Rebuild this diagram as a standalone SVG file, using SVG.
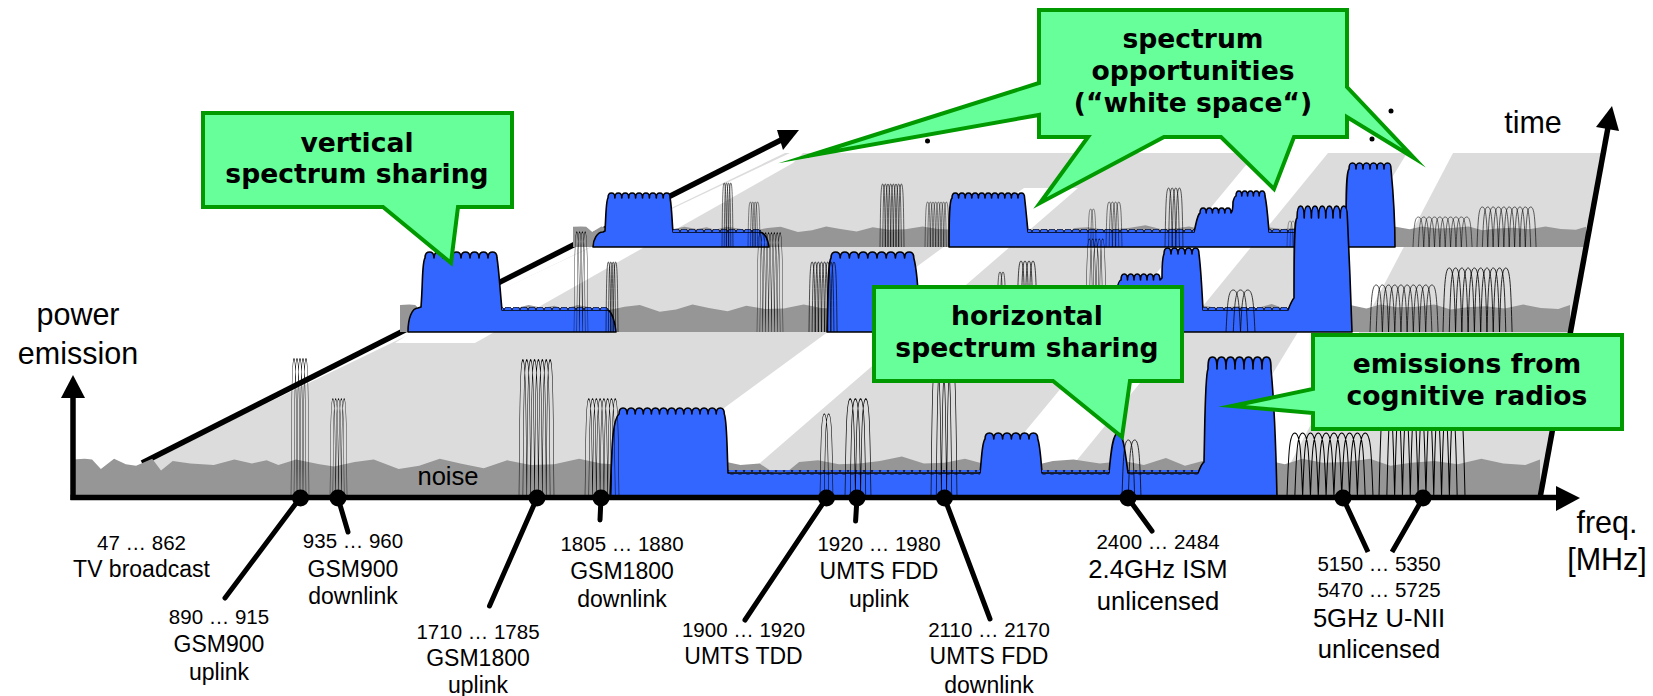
<svg xmlns="http://www.w3.org/2000/svg" width="1653" height="696" viewBox="0 0 1653 696">
<style>
.lab{font-family:"Liberation Sans",Arial,sans-serif;fill:#000;text-anchor:middle}
.n{font-size:20.5px}.m{font-size:23px}.l{font-size:25.6px}.x{font-size:30.5px}
.call{font-family:"DejaVu Sans",Verdana,sans-serif;font-weight:bold;font-size:26.6px;fill:#000;text-anchor:middle}
.box{fill:#66ff99;stroke:#009900;stroke-width:4;stroke-miterlimit:30;stroke-linejoin:miter}
.arch{fill:none;stroke:#000;stroke-width:1.3;vector-effect:non-scaling-stroke}
.blue{fill:#3366ff;stroke:#000;stroke-width:1.6;stroke-linejoin:round}
.noise{fill:#969696}
.ax{fill:none;stroke:#000;stroke-width:5.5}
.lead{fill:none;stroke:#000;stroke-width:5;stroke-linecap:round}
</style>
<defs>
<path id="c2" d="M0,0c2,-70 3,-100 10,-100c7,0 8,30 10,100m-10,0c2,-70 3,-100 10,-100c7,0 8,30 10,100"/>
<path id="c3" d="M0,0c2,-70 3,-100 10,-100c7,0 8,30 10,100m-10,0c2,-70 3,-100 10,-100c7,0 8,30 10,100m-10,0c2,-70 3,-100 10,-100c7,0 8,30 10,100"/>
<path id="c4" d="M0,0c2,-70 3,-100 10,-100c7,0 8,30 10,100m-10,0c2,-70 3,-100 10,-100c7,0 8,30 10,100m-10,0c2,-70 3,-100 10,-100c7,0 8,30 10,100m-10,0c2,-70 3,-100 10,-100c7,0 8,30 10,100"/>
<path id="c5" d="M0,0c2,-70 3,-100 10,-100c7,0 8,30 10,100m-10,0c2,-70 3,-100 10,-100c7,0 8,30 10,100m-10,0c2,-70 3,-100 10,-100c7,0 8,30 10,100m-10,0c2,-70 3,-100 10,-100c7,0 8,30 10,100m-10,0c2,-70 3,-100 10,-100c7,0 8,30 10,100"/>
<path id="c8" d="M0,0c2,-70 3,-100 10,-100c7,0 8,30 10,100m-10,0c2,-70 3,-100 10,-100c7,0 8,30 10,100m-10,0c2,-70 3,-100 10,-100c7,0 8,30 10,100m-10,0c2,-70 3,-100 10,-100c7,0 8,30 10,100m-10,0c2,-70 3,-100 10,-100c7,0 8,30 10,100m-10,0c2,-70 3,-100 10,-100c7,0 8,30 10,100m-10,0c2,-70 3,-100 10,-100c7,0 8,30 10,100m-10,0c2,-70 3,-100 10,-100c7,0 8,30 10,100"/>
<path id="c10" d="M0,0c2,-70 3,-100 10,-100c7,0 8,30 10,100m-10,0c2,-70 3,-100 10,-100c7,0 8,30 10,100m-10,0c2,-70 3,-100 10,-100c7,0 8,30 10,100m-10,0c2,-70 3,-100 10,-100c7,0 8,30 10,100m-10,0c2,-70 3,-100 10,-100c7,0 8,30 10,100m-10,0c2,-70 3,-100 10,-100c7,0 8,30 10,100m-10,0c2,-70 3,-100 10,-100c7,0 8,30 10,100m-10,0c2,-70 3,-100 10,-100c7,0 8,30 10,100m-10,0c2,-70 3,-100 10,-100c7,0 8,30 10,100m-10,0c2,-70 3,-100 10,-100c7,0 8,30 10,100"/>
<path id="nz" d="M0,0V-96L8,-98L13,-96L19,-72L28,-98L36,-84L43,-80L54,-98L60,-68L68,-92L80,-86L96,-82L110,-96L122,-86L132,-94L140,-82L152,-96L168,-84L178,-78L192,-90L205,-96L222,-72L236,-80L250,-98L264,-86L280,-74L296,-94L312,-82L328,-84L345,-98L360,-86L376,-82L392,-76L410,-92L425,-82L440,-94L455,-82L468,-86L480,-56L486,-62L495,-90L508,-94L522,-84L536,-86L550,-92L565,-104L580,-86L594,-88L608,-98L620,-86L628,-100L640,-88L654,-80L668,-92L682,-96L700,-86L716,-92L730,-82L745,-100L758,-80L770,-92L784,-94L798,-82L812,-96L826,-84L838,-98L852,-88L868,-90L884,-98L898,-80L912,-88L928,-92L944,-84L960,-98L975,-86L990,-82L1000,-96V0Z"/>
<pattern id="sc" width="8" height="6" patternUnits="userSpaceOnUse"><path d="M0,4c0,-2 2,-3 4,-3s4,1 4,3" fill="#3366ff" stroke="#000" stroke-width="1"/></pattern>
</defs>
<rect width="1653" height="696" fill="#fff"/>
<g id="floor">
<polygon points="73,497 1540,497 1604,153 785,153" fill="#dcdcdc"/>
<polygon points="395,343 475,343 793,163 803,153 790,153 412,332" fill="#fff"/>
<polygon points="660,455 1024,188 1078,188 752,470 660,470" fill="#fff"/>
<polygon points="1256,153 1328,153 1064,476 985,480" fill="#fff"/>
<polygon points="1407,153 1453,153 1287,470 1214,470" fill="#fff"/>
</g>
<g id="time-axis-front">
<line x1="142" y1="463" x2="787" y2="137" stroke="#000" stroke-width="5.5"/>
<polygon points="799,130 777,130 783,150" fill="#000"/>
</g>
<g id="row3">
<use href="#nz" class="noise" transform="translate(573,247) scale(1.013,.21)"/>
<path class="blue" d="M593,247C593,240 597,232 603,232L605,231C606,215 606,200 608,198c0-4 1-5 3.45-5s3.45 1 3.45 5c0-4 1-5 3.45-5s3.45 1 3.45 5c0-4 1-5 3.45-5s3.45 1 3.45 5c0-4 1-5 3.45-5s3.45 1 3.45 5c0-4 1-5 3.45-5s3.45 1 3.45 5c0-4 1-5 3.45-5s3.45 1 3.45 5c0-4 1-5 3.45-5s3.45 1 3.45 5c0-4 1-5 3.45-5s3.45 1 3.45 5c0-4 1-5 3.45-5s3.45 1 3.45 5C672,210 672,222 673,232H760C765,233 768,240 769,247Z"/>
<path class="blue" d="M949,247C949,225 949,200 952,198c0-4 1-5 3.3-5s3.3 1 3.3 5c0-4 1-5 3.3-5s3.3 1 3.3 5c0-4 1-5 3.3-5s3.3 1 3.3 5c0-4 1-5 3.3-5s3.3 1 3.3 5c0-4 1-5 3.3-5s3.3 1 3.3 5c0-4 1-5 3.3-5s3.3 1 3.3 5c0-4 1-5 3.3-5s3.3 1 3.3 5c0-4 1-5 3.3-5s3.3 1 3.3 5c0-4 1-5 3.3-5s3.3 1 3.3 5c0-4 1-5 3.3-5s3.3 1 3.3 5c0-4 1-5 3.3-5s3.3 1 3.3 5C1026,210 1027,222 1028,232H1194C1196,225 1197,215 1200,213c0-4 1-5 3.1-5s3.1 1 3.1 5c0-4 1-5 3.1-5s3.1 1 3.1 5c0-4 1-5 3.1-5s3.1 1 3.1 5c0-4 1-5 3.1-5s3.1 1 3.1 5c0-4 1-5 3.1-5s3.1 1 3.1 5C1232,212 1233,208 1233,202C1234,198 1235,196 1236,196c0-4 1-5 2.9-5s2.9 1 2.9 5c0-4 1-5 2.9-5s2.9 1 2.9 5c0-4 1-5 2.9-5s2.9 1 2.9 5c0-4 1-5 2.9-5s2.9 1 2.9 5c0-4 1-5 2.9-5s2.9 1 2.9 5C1267,205 1268,220 1269,232H1346C1346,200 1346,172 1349,169c0-5 1-6 3.5-6s3.5 1 3.5 6c0-5 1-6 3.5-6s3.5 1 3.5 6c0-5 1-6 3.5-6s3.5 1 3.5 6c0-5 1-6 3.5-6s3.5 1 3.5 6c0-5 1-6 3.5-6s3.5 1 3.5 6c0-5 1-6 3.5-6s3.5 1 3.5 6C1393,190 1395,220 1395,247Z"/>
<rect x="673" y="229" width="88" height="5" fill="url(#sc)"/><rect x="1028" y="229" width="166" height="5" fill="url(#sc)"/><rect x="1269" y="229" width="77" height="5" fill="url(#sc)"/>
<g class="arch">
<use href="#c4" transform="translate(722,247) scale(.22,.64)"/>
<use href="#c4" transform="translate(748,247) scale(.24,.45)"/>
<use href="#c8" transform="translate(880,247) scale(.267,.63)"/>
<use href="#c8" transform="translate(925,247) scale(.267,.45)"/>
<use href="#c2" transform="translate(1088,247) scale(.269,.38)"/>
<use href="#c4" transform="translate(1106,247) scale(.32,.45)"/>
<use href="#c4" transform="translate(1165,247) scale(.36,.59)"/>
<use href="#c2" transform="translate(1287,247) scale(.3,.26)"/>
<use href="#c10" transform="translate(1413,247) scale(.537,.30)"/>
<use href="#c10" transform="translate(1477,247) scale(.537,.40)"/>
</g>
</g>
<g id="row2">
<use href="#nz" class="noise" transform="translate(400,332) scale(1.17,.28)"/>
<path class="blue" d="M408,332C408,318 412,308 418,308L421,307C423,280 422,262 425,258c0-5 2-6 4.5-6s4.5 1 4.5 6c0-5 2-6 4.5-6s4.5 1 4.5 6c0-5 2-6 4.5-6s4.5 1 4.5 6c0-5 2-6 4.5-6s4.5 1 4.5 6c0-5 2-6 4.5-6s4.5 1 4.5 6c0-5 2-6 4.5-6s4.5 1 4.5 6c0-5 2-6 4.5-6s4.5 1 4.5 6c0-5 2-6 4.5-6s4.5 1 4.5 6C499,270 500,290 502,310H608C612,312 615,322 616,332Z"/>
<path class="blue" d="M827,332C828,290 828,262 831,258c0-5 2-6 4.6-6s4.6 1 4.6 6c0-5 2-6 4.6-6s4.6 1 4.6 6c0-5 2-6 4.6-6s4.6 1 4.6 6c0-5 2-6 4.6-6s4.6 1 4.6 6c0-5 2-6 4.6-6s4.6 1 4.6 6c0-5 2-6 4.6-6s4.6 1 4.6 6c0-5 2-6 4.6-6s4.6 1 4.6 6c0-5 2-6 4.6-6s4.6 1 4.6 6c0-5 2-6 4.6-6s4.6 1 4.6 6C917,270 918,285 919,310H1114C1116,290 1118,280 1121,280c0-4 1-6 3.25-6s3.25 2 3.25 6c0-4 1-6 3.25-6s3.25 2 3.25 6c0-4 1-6 3.25-6s3.25 2 3.25 6c0-4 1-6 3.25-6s3.25 2 3.25 6c0-4 1-6 3.25-6s3.25 2 3.25 6c0-4 1-6 3.25-6s3.25 2 3.25 6L1162,278C1162,268 1162,258 1164,254c0-4 1-6 3.5-6s3.5 2 3.5 6c0-4 1-6 3.5-6s3.5 2 3.5 6c0-4 1-6 3.5-6s3.5 2 3.5 6c0-4 1-6 3.5-6s3.5 2 3.5 6c0-4 1-6 3.5-6s3.5 2 3.5 6C1201,270 1202,290 1203,310H1288C1290,305 1292,300 1294,298C1294,250 1294,220 1297,218c0-9 1-12 3.6-12s3.6 3 3.6 12c0-9 1-12 3.6-12s3.6 3 3.6 12c0-9 1-12 3.6-12s3.6 3 3.6 12c0-9 1-12 3.6-12s3.6 3 3.6 12c0-9 1-12 3.6-12s3.6 3 3.6 12c0-9 1-12 3.6-12s3.6 3 3.6 12c0-9 1-12 3.6-12s3.6 3 3.6 12C1349,250 1351,300 1352,332Z"/>
<rect x="502" y="307" width="106" height="5" fill="url(#sc)"/><rect x="919" y="307" width="195" height="5" fill="url(#sc)"/><rect x="1203" y="307" width="85" height="5" fill="url(#sc)"/>
<g class="arch">
<use href="#c4" transform="translate(574,332) scale(.28,1)"/>
<use href="#c4" transform="translate(606,332) scale(.24,.7)"/>
<use href="#c8" transform="translate(757,332) scale(.289,.99)"/>
<use href="#c8" transform="translate(809,332) scale(.312,.7)"/>
<use href="#c2" transform="translate(997,332) scale(.3,.6)"/>
<use href="#c4" transform="translate(1017,332) scale(.4,.71)"/>
<use href="#c5" transform="translate(1086,332) scale(.333,.93)"/>
<use href="#c3" transform="translate(1226,332) scale(.725,.42)"/>
<use href="#c10" transform="translate(1370,332) scale(.619,.47)"/>
<use href="#c10" transform="translate(1443,332) scale(.628,.64)"/>
</g>
</g>
<g id="row1">
<use href="#nz" class="noise" transform="translate(73,497) scale(1.467,.39)"/>
<path class="blue" d="M610,497C612,450 612,420 619,414c0-4 1-6 4.05-6s4.05 2 4.05 6c0-4 1-6 4.05-6s4.05 2 4.05 6c0-4 1-6 4.05-6s4.05 2 4.05 6c0-4 1-6 4.05-6s4.05 2 4.05 6c0-4 1-6 4.05-6s4.05 2 4.05 6c0-4 1-6 4.05-6s4.05 2 4.05 6c0-4 1-6 4.05-6s4.05 2 4.05 6c0-4 1-6 4.05-6s4.05 2 4.05 6c0-4 1-6 4.05-6s4.05 2 4.05 6c0-4 1-6 4.05-6s4.05 2 4.05 6c0-4 1-6 4.05-6s4.05 2 4.05 6c0-4 1-6 4.05-6s4.05 2 4.05 6c0-4 1-6 4.05-6s4.05 2 4.05 6C727,420 727,450 728,473H980C982,455 982,442 985,439c0-4 1-6 4.4-6s4.4 2 4.4 6c0-4 1-6 4.4-6s4.4 2 4.4 6c0-4 1-6 4.4-6s4.4 2 4.4 6c0-4 1-6 4.4-6s4.4 2 4.4 6c0-4 1-6 4.4-6s4.4 2 4.4 6c0-4 1-6 4.4-6s4.4 2 4.4 6C1040,445 1041,460 1042,473H1109C1111,450 1113,433 1118,433C1123,433 1125,450 1128,473H1198C1200,468 1202,463 1204,462C1205,420 1205,375 1208,369c0-9 1-12 4.5-12s4.5 3 4.5 12c0-9 1-12 4.5-12s4.5 3 4.5 12c0-9 1-12 4.5-12s4.5 3 4.5 12c0-9 1-12 4.5-12s4.5 3 4.5 12c0-9 1-12 4.5-12s4.5 3 4.5 12c0-9 1-12 4.5-12s4.5 3 4.5 12c0-9 1-12 4.5-12s4.5 3 4.5 12C1274,400 1276,450 1277,497Z"/>
<rect x="728" y="470" width="252" height="5" fill="url(#sc)"/><rect x="1042" y="470" width="67" height="5" fill="url(#sc)"/><rect x="1128" y="470" width="70" height="5" fill="url(#sc)"/>
<g class="arch">
<use href="#c5" transform="translate(291,497) scale(.3,1.38)"/>
<use href="#c5" transform="translate(330,497) scale(.284,.98)"/>
<use href="#c8" transform="translate(519,497) scale(.389,1.37)"/>
<use href="#c8" transform="translate(585,497) scale(.378,.98)"/>
<use href="#c2" transform="translate(820,497) scale(.433,.83)"/>
<use href="#c4" transform="translate(845,497) scale(.52,.98)"/>
<use href="#c4" transform="translate(931,497) scale(.52,1.37)"/>
<use href="#c2" transform="translate(1122,497) scale(.633,.57)"/>
<use href="#c10" transform="translate(1287,497) scale(.782,.64)"/>
<use href="#c10" transform="translate(1379,497) scale(.782,.98)"/>
</g>
</g>
<g id="axes">
<line class="ax" x1="73" y1="500" x2="73" y2="390"/>
<polygon points="73,375 61,398 85,398" fill="#000"/>
<line class="ax" x1="70.500" y1="497.500" x2="1565" y2="497.500"/>
<polygon points="1580,498 1556,486 1556,511" fill="#000"/>
<line class="ax" x1="1540" y1="498" x2="1609" y2="122"/>
<polygon points="1612,106 1596,127 1619,131" fill="#000"/>
</g>
<g id="connectors">
<path class="lead" d="M300,498L225,598M338,498L348,532M537,498L489.500,606M601,498L600,520M826.500,498L745,620M857,498L855.600,521M944.500,498L990,619M1128,498L1152,531"/>
<path class="lead" d="M1343,498L1368,552M1423,498L1392,552" style="stroke-linecap:butt"/>
<g fill="#000">
<circle cx="300.500" cy="498" r="8.500"/><circle cx="338" cy="498" r="8.500"/><circle cx="537" cy="498" r="8.500"/><circle cx="601" cy="498" r="8.500"/><circle cx="826.500" cy="498" r="8.500"/><circle cx="857" cy="498" r="8.500"/><circle cx="944.500" cy="498" r="8.500"/><circle cx="1128" cy="498" r="8.500"/><circle cx="1343" cy="498" r="8.500"/><circle cx="1423" cy="498" r="8.500"/>
<circle cx="927.500" cy="141" r="2.500"/><circle cx="1391" cy="111" r="2.500"/><circle cx="1372" cy="139" r="2.500"/>
</g>
</g>
<g id="callout-vertical">
<polygon class="box" points="203,113 512,113 512,207 458,207 451,263 383,207 203,207"/>
<text class="call" x="357" y="152">vertical</text>
<text class="call" x="357" y="183">spectrum sharing</text>
</g>
<g id="callout-spectrum">
<polygon class="box" points="1039,10 1347,10 1347,87 1414,158 1347,117 1347,137 1294,137 1274,189 1221,137 1164,137 1040,203 1088,137 1039,137 1039,115 808,156 1039,83"/>
<text class="call" x="1193" y="48">spectrum</text>
<text class="call" x="1193" y="80">opportunities</text>
<text class="call" x="1193" y="112">(“white space“)</text>
</g>
<g id="callout-horizontal">
<polygon class="box" points="874,287 1182,287 1182,381 1130,381 1122,437 1053,381 874,381"/>
<text class="call" x="1027" y="325">horizontal</text>
<text class="call" x="1027" y="357">spectrum sharing</text>
</g>
<g id="callout-emissions">
<polygon class="box" points="1313,335 1622,335 1622,429 1313,429 1313,413 1232,406 1313,389"/>
<text class="call" x="1467" y="373">emissions from</text>
<text class="call" x="1467" y="405">cognitive radios</text>
</g>
<g id="labels" class="lab">
<text class="x" x="78" y="325">power</text><text class="x" x="78" y="364">emission</text>
<text class="l" x="448" y="485">noise</text>
<text class="x" x="1533" y="133">time</text>
<text class="x" x="1607" y="533">freq.</text><text class="x" x="1607" y="570">[MHz]</text>
<text class="n" x="141.500" y="550">47 … 862</text><text class="m" x="141.500" y="577">TV broadcast</text>
<text class="n" x="353" y="548">935 … 960</text><text class="m" x="353" y="577">GSM900</text><text class="m" x="353" y="604">downlink</text>
<text class="n" x="219" y="624">890 … 915</text><text class="m" x="219" y="652">GSM900</text><text class="m" x="219" y="680">uplink</text>
<text class="n" x="478" y="639">1710 … 1785</text><text class="m" x="478" y="666">GSM1800</text><text class="m" x="478" y="693">uplink</text>
<text class="n" x="622" y="551">1805 … 1880</text><text class="m" x="622" y="579">GSM1800</text><text class="m" x="622" y="607">downlink</text>
<text class="n" x="879" y="551">1920 … 1980</text><text class="m" x="879" y="579">UMTS FDD</text><text class="m" x="879" y="607">uplink</text>
<text class="n" x="743.500" y="637">1900 … 1920</text><text class="m" x="743.500" y="664">UMTS TDD</text>
<text class="n" x="989" y="637">2110 … 2170</text><text class="m" x="989" y="664">UMTS FDD</text><text class="m" x="989" y="693">downlink</text>
<text class="n" x="1158" y="549">2400 … 2484</text><text class="l" x="1158" y="578">2.4GHz ISM</text><text class="l" x="1158" y="610">unlicensed</text>
<text class="n" x="1379" y="571">5150 … 5350</text><text class="n" x="1379" y="597">5470 … 5725</text><text class="l" x="1379" y="627">5GHz U-NII</text><text class="l" x="1379" y="658">unlicensed</text>
</g>
</svg>
